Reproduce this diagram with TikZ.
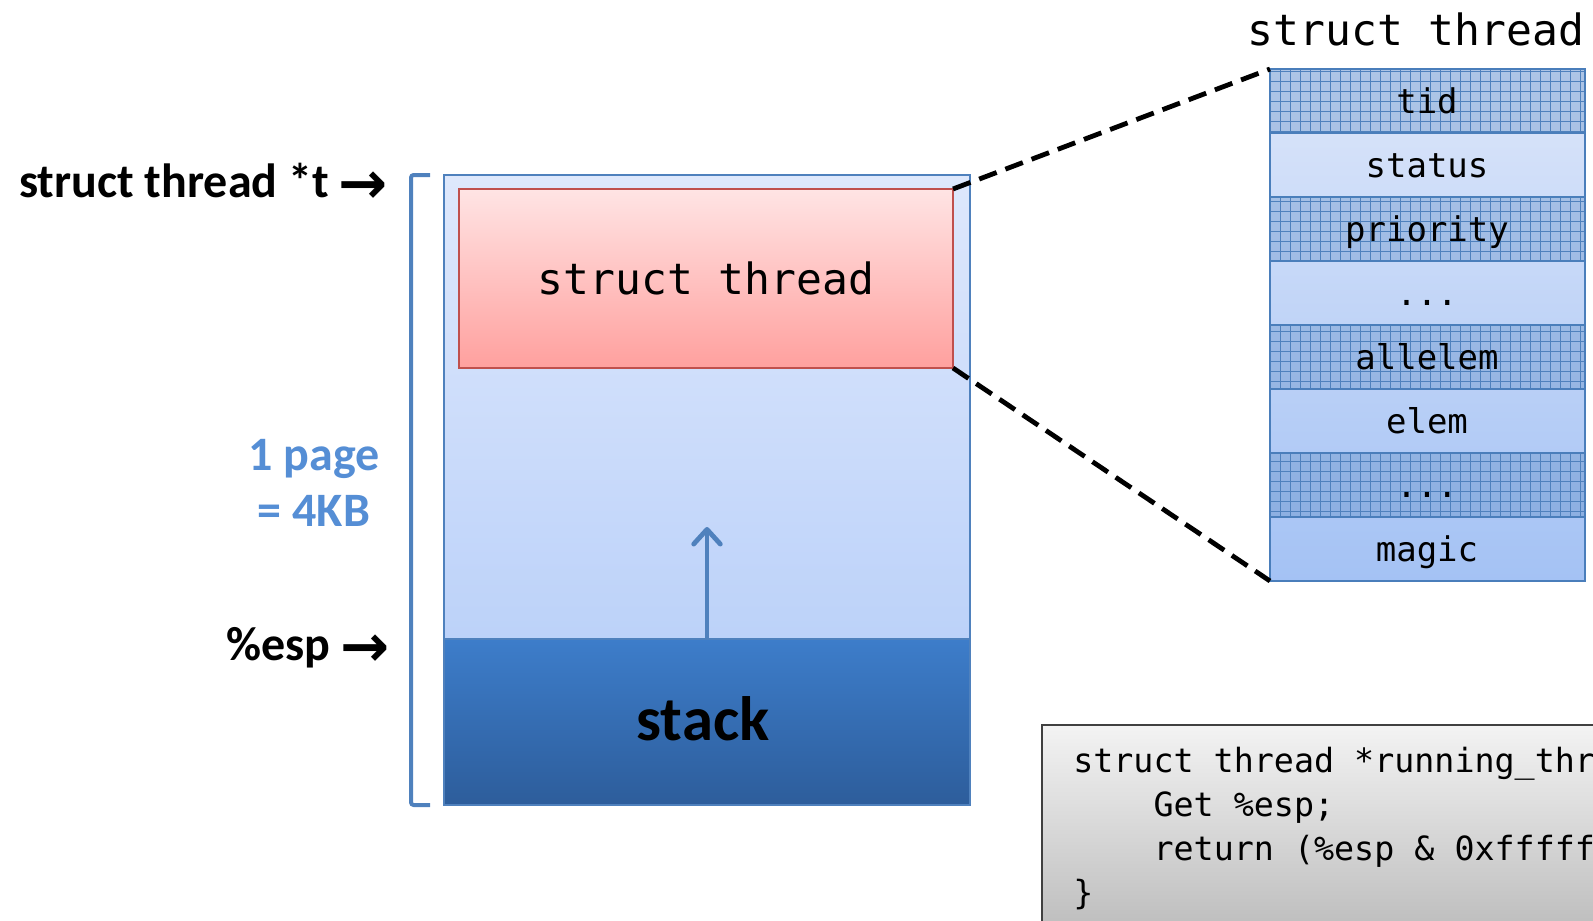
\documentclass[tikz,border=0pt]{standalone}
\usepackage{fontspec}
\setmainfont{Carlito}
\newfontfamily\monofam{DejaVu Sans Mono}
\newfontfamily\arrfam{DejaVu Sans}
\usetikzlibrary{arrows.meta,patterns.meta,fit}
\definecolor{bord}{HTML}{4F81BD}
\definecolor{tblbord}{HTML}{4A7EBB}
\definecolor{pagetop}{HTML}{DEE8FC}
\definecolor{pagebot}{HTML}{B0CAF8}
\definecolor{redtop}{HTML}{FFE4E4}
\definecolor{redbot}{HTML}{FFA09E}
\definecolor{redbord}{HTML}{C0504D}
\definecolor{stktop}{HTML}{3D7DCA}
\definecolor{stkbot}{HTML}{2D5D9B}
\definecolor{tbltop}{HTML}{DCE6FA}
\definecolor{tblbot}{HTML}{A4C2F4}
\definecolor{codetop}{HTML}{F3F3F3}
\definecolor{codebot}{HTML}{B0B0B0}
\definecolor{codebord}{HTML}{404040}
\definecolor{pagelbl}{HTML}{558ED5}
\tikzset{
  lbl/.style={font=\bfseries\fontsize{36}{43}\selectfont, inner sep=0},
  arrlbl/.style={font=\arrfam\bfseries\fontsize{44}{50}\selectfont, inner sep=0},
  monolbl/.style={font=\monofam\fontsize{32.3}{38}\selectfont, inner sep=0},
  codeline/.style={font=\monofam\fontsize{25}{30}\selectfont, inner sep=0, anchor=base west},
  rowtext/.style={font=\monofam\fontsize{25.5}{30}\selectfont, inner sep=0, anchor=base},
  boxfit/.style={inner sep=0, outer sep=0},
  row/.style={boxfit, draw=tblbord, line width=2.2pt},
  hatched/.style={
    postaction={fill=bord, fill opacity=.32},
    postaction={pattern={Lines[angle=0,distance=7.5pt,line width=.45pt]}, pattern color=bord},
    postaction={pattern={Lines[angle=90,distance=7.5pt,line width=.45pt]}, pattern color=bord},
    postaction={draw=tblbord, line width=2.2pt}},
  dashconn/.style={line width=3.6pt, dash pattern=on 14pt off 7pt},
  growarrow/.style={draw=bord, line width=3.6pt, -{Straight Barb[length=11pt,width=20pt,round]}},
  bracketline/.style={draw=bord, line width=3pt, rounded corners=2pt},
}
\begin{document}
\begin{tikzpicture}[x=0.75pt,y=-0.75pt]
\useasboundingbox (0,0) rectangle (1593,921);
\clip (0,0) rectangle (1593,921);

% page
\node[boxfit, fit={(444,175)(970,805)}, draw=bord, line width=1.2pt,
      top color=pagetop, bottom color=pagebot] (page) {};
\node[boxfit, fit={(444,639)(970,805)}, draw=bord, line width=1.2pt,
      top color=stktop, bottom color=stkbot] (stack) {};
\node[anchor=base, inner sep=0, font=\bfseries\fontsize{47}{56}\selectfont] (stacklbl) at (703,740) {stack};
\node[boxfit, fit={(459,189)(953,368)}, draw=redbord, line width=1.5pt,
      top color=redtop, bottom color=redbot] (red) {};
\node[monolbl, anchor=base] (redlbl) at (706,294) {struct thread};

% growth arrow
\coordinate (uptip) at (707,527);
\draw[growarrow] (stack.north) -- (uptip);

% bracket
\draw[bracketline] (430,175) -- (411,175) -- (411,805) -- (430,805);

% left labels
\node[lbl, anchor=base west] (tlbl) at (19,197) {struct thread *t};
\node[arrlbl, anchor=base west] (tarr) at (338,203) {→};
\node[lbl, anchor=base, text=pagelbl] (pg1) at (314,470) {1 page};
\node[lbl, anchor=base, text=pagelbl] (pg2) at (314,526) {= 4KB};
\node[lbl, anchor=base west] (esplbl) at (226,660) {\%esp};
\node[arrlbl, anchor=base west] (esparr) at (340,666) {→};

% struct table
\node[monolbl, anchor=base] (title) at (1416,45) {struct thread};
\node[row, fit={(1270,69)(1585,133)}, top color=tbltop, bottom color=tbltop!87.5!tblbot, hatched] (tid) {};
\node[row, fit={(1270,133)(1585,197)}, top color=tbltop!87.5!tblbot, bottom color=tbltop!75!tblbot] (status) {};
\node[row, fit={(1270,197)(1585,261)}, top color=tbltop!75!tblbot, bottom color=tbltop!62.5!tblbot, hatched] (prio) {};
\node[row, fit={(1270,261)(1585,325)}, top color=tbltop!62.5!tblbot, bottom color=tbltop!50!tblbot] (dotsa) {};
\node[row, fit={(1270,325)(1585,389)}, top color=tbltop!50!tblbot, bottom color=tbltop!37.5!tblbot, hatched] (allelem) {};
\node[row, fit={(1270,389)(1585,453)}, top color=tbltop!37.5!tblbot, bottom color=tbltop!25!tblbot] (elem) {};
\node[row, fit={(1270,453)(1585,517)}, top color=tbltop!25!tblbot, bottom color=tbltop!12.5!tblbot, hatched] (dotsb) {};
\node[row, fit={(1270,517)(1585,581)}, top color=tbltop!12.5!tblbot, bottom color=tblbot] (magic) {};
\node[rowtext] (tidt) at (1427,113) {tid};
\node[rowtext] (statust) at (1427,177) {status};
\node[rowtext] (priot) at (1427,241) {priority};
\node[rowtext] (dotsat) at (1427,305) {...};
\node[rowtext] (allelemt) at (1427,369) {allelem};
\node[rowtext] (elemt) at (1427,433) {elem};
\node[rowtext] (dotsbt) at (1427,497) {...};
\node[rowtext] (magict) at (1427,561) {magic};

% zoom connectors
\draw[dashconn] (red.north east) -- (tid.north west);
\draw[dashconn] (red.south east) -- (magic.south west);

% code box
\node[boxfit, fit={(1042,725)(1700,980)}, draw=codebord, line width=1.8pt,
      top color=codetop, bottom color=codebot] (code) {};
\node[codeline] (c1) at (1073,772) {struct thread *running\_thread() \{};
\node[codeline] (c2) at (1073,816) {\hphantom{0000}Get \%esp;};
\node[codeline] (c3) at (1073,860) {\hphantom{0000}return (\%esp \& 0xfffff000);};
\node[codeline] (c4) at (1073,904) {\}};
\end{tikzpicture}
\end{document}
